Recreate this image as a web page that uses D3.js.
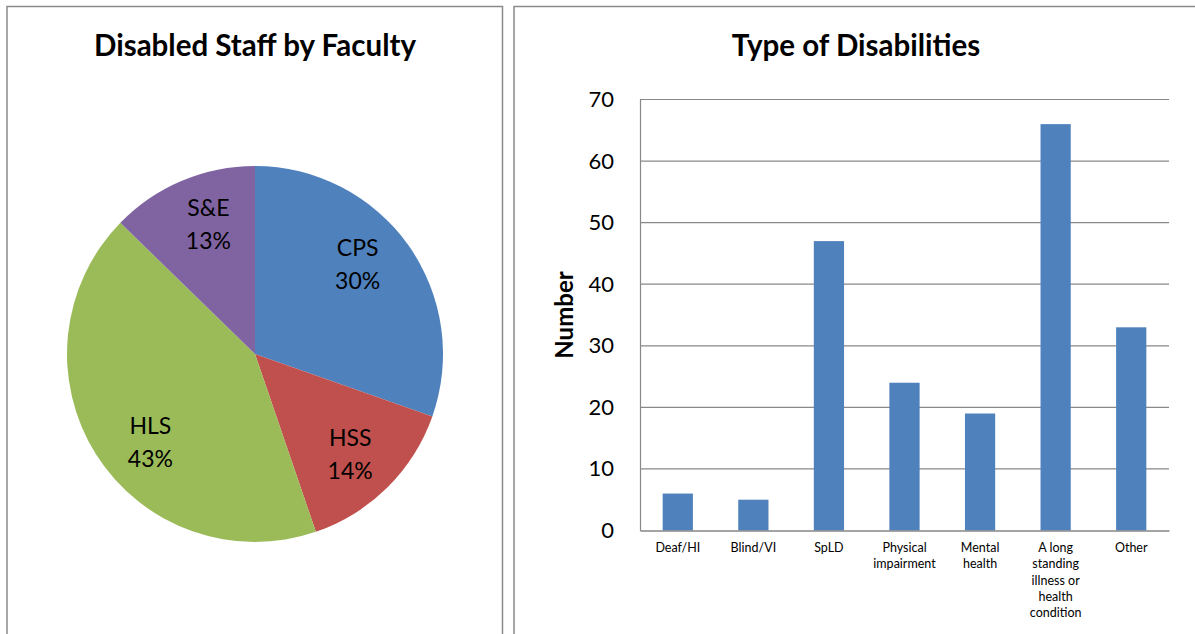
<!DOCTYPE html>
<html>
<head>
<meta charset="utf-8">
<title>Disabled Staff</title>
<script src="https://d3js.org/d3.v7.min.js"></script>
<style>
  body { margin: 0; background: #fff; }
  svg { display: block; font-family: Lato, "Open Sans", sans-serif; }
</style>
</head>
<body>
<svg id="chart" width="1195" height="634"></svg>
<script>
// pie data (staff counts, shares)
var faculties = ['CPS', 'HSS', 'HLS', 'S&E']
var facultyStaff = [55, 26, 77, 23]
var facultyColors = ['#4f81bd', '#c0504d', '#9bbb59', '#8064a2']

// bar data
var disabilityTypes = [
  ['Deaf/HI'],
  ['Blind/VI'],
  ['SpLD'],
  ['Physical', 'impairment'],
  ['Mental', 'health'],
  ['A long', 'standing', 'illness or', 'health', 'condition'],
  ['Other']
]
var disabilityCounts = [6, 5, 47, 24, 19, 66, 33]
var yTicks = [0, 10, 20, 30, 40, 50, 60, 70]

var svg = d3.select('#chart')

// panel frames
svg.append('rect').attr('x', 7).attr('y', 6.5).attr('width', 495.5).attr('height', 640)
  .attr('fill', 'none').attr('stroke', '#8a8a8a').attr('stroke-width', 1.5)
svg.append('rect').attr('x', 514).attr('y', 6.5).attr('width', 700).attr('height', 640)
  .attr('fill', 'none').attr('stroke', '#8a8a8a').attr('stroke-width', 1.5)

// ---- pie ----
svg.append('text').attr('x', 255).attr('y', 56).attr('text-anchor', 'middle')
  .style('font-weight', 'bold').style('font-size', '29.5px').text('Disabled Staff by Faculty')

var total = d3.sum(facultyStaff)
var pieG = svg.append('g').attr('transform', 'translate(255,354)')
var pie = d3.pie().sort(null).value(function (d) { return d })
var arcs = pie(facultyStaff)
var arc = d3.arc().innerRadius(0).outerRadius(188)
var labelArc = d3.arc().innerRadius(138).outerRadius(138)
// excel "best fit" pulls labels a bit off the centroid
var nudge = [[-10, -10], [-2, 2], [12, 14], [7, -3]]

pieG.selectAll('path').data(arcs).enter().append('path')
  .attr('d', arc)
  .attr('fill', function (d, i) { return facultyColors[i] })

var lbl = pieG.selectAll('text.lbl').data(arcs).enter().append('text')
  .attr('class', 'lbl')
  .attr('text-anchor', 'middle')
  .style('font-size', '23px')
  .attr('transform', function (d, i) {
    var c = labelArc.centroid(d)
    return 'translate(' + (c[0] + nudge[i][0]) + ',' + (c[1] + nudge[i][1]) + ')'
  })
lbl.append('tspan').attr('x', 0).attr('y', -8).text(function (d, i) { return faculties[i] })
lbl.append('tspan').attr('x', 0).attr('y', 25).text(function (d) { return Math.round(d.value / total * 100) + '%' })

// ---- bars ----
svg.append('text').attr('x', 856).attr('y', 56).attr('text-anchor', 'middle')
  .style('font-weight', 'bold').style('font-size', '29.5px').text('Type of Disabilities')

var plotL = 640, plotR = 1169, plotT = 99.5, plotB = 530.5

var x = d3.scaleBand().domain(d3.range(disabilityCounts.length)).range([plotL, plotR]).paddingInner(0.6).paddingOuter(0.3)
var y = d3.scaleLinear().domain([0, 70]).range([plotB, plotT])

var grid = svg.append('g')
grid.selectAll('line').data(yTicks.slice(1)).enter().append('line')
  .attr('x1', plotL).attr('x2', plotR)
  .attr('y1', function (d) { return y(d) }).attr('y2', function (d) { return y(d) })
  .attr('stroke', '#898989').attr('stroke-width', 1.2)

svg.append('g').selectAll('rect').data(disabilityCounts).enter().append('rect')
  .attr('x', function (d, i) { return x(i) })
  .attr('width', x.bandwidth())
  .attr('y', function (d) { return y(d) })
  .attr('height', function (d) { return y(0) - y(d) })
  .attr('fill', '#4f81bd')

// y axis
var yAxis = d3.axisLeft(y).tickValues(yTicks).tickSize(0).tickPadding(26)
var yg = svg.append('g').attr('transform', 'translate(' + plotL + ',0)').call(yAxis)
yg.select('.domain').attr('stroke', '#898989').attr('stroke-width', 1.2)
yg.selectAll('text').style('font-size', '22px').style('font-family', 'Lato, sans-serif').attr('fill', '#000')

// x axis
var xAxis = d3.axisBottom(x).tickSize(0).tickFormat('')
var xg = svg.append('g').attr('transform', 'translate(0,' + plotB + ')').call(xAxis)
xg.select('.domain').attr('stroke', '#868686').attr('stroke-width', 1.5)

var xl = svg.append('g').selectAll('text').data(disabilityTypes).enter().append('text')
  .attr('text-anchor', 'middle')
  .style('font-size', '12.5px')
  .attr('transform', function (d, i) { return 'translate(' + (x(i) + x.bandwidth() / 2) + ',552)' })
xl.selectAll('tspan').data(function (d) { return d }).enter().append('tspan')
  .attr('x', 0).attr('y', function (d, j) { return j * 16.3 }).text(function (d) { return d })

svg.append('text').attr('transform', 'translate(573,315) rotate(-90)')
  .attr('text-anchor', 'middle').style('font-weight', 'bold').style('font-size', '24px').text('Number')
</script>
</body>
</html>
